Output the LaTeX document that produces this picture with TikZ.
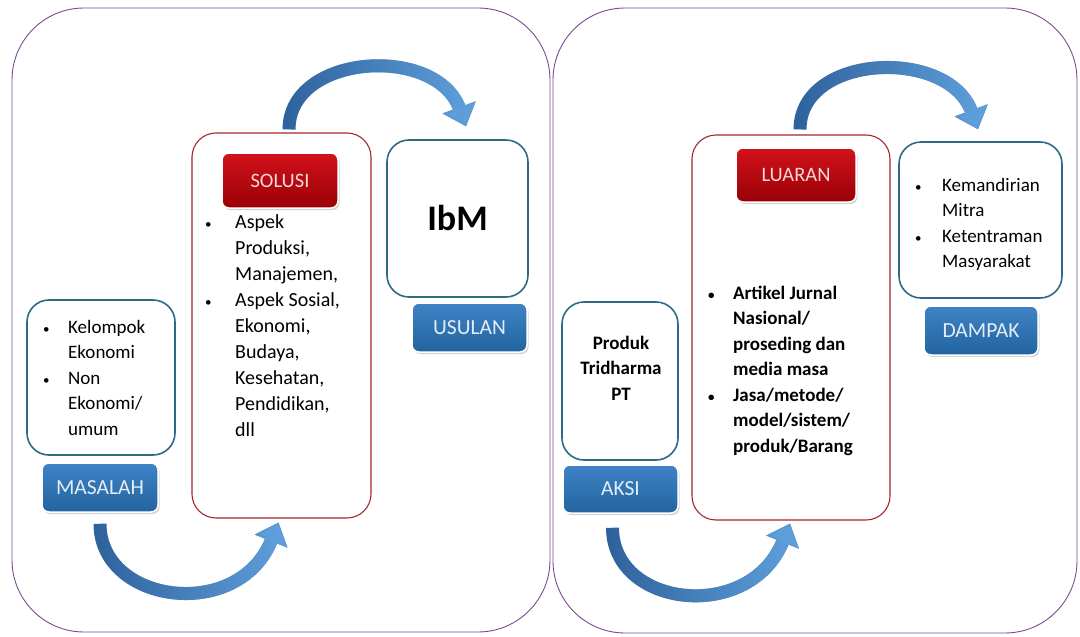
\documentclass[tikz,border=0pt]{standalone}
\usepackage{fontspec}
\setmainfont{Carlito}
\usetikzlibrary{arrows.meta,shadows,fadings}

\definecolor{panelline}{HTML}{7B4A8E}
\definecolor{redline}{HTML}{A3282C}
\definecolor{blueline}{HTML}{2C6A86}
\definecolor{redtop}{HTML}{D2121C}
\definecolor{redbot}{HTML}{9A0006}
\definecolor{bluetop}{HTML}{3F83C6}
\definecolor{bluebot}{HTML}{22649F}
\definecolor{arrowdark}{HTML}{2F629C}
\definecolor{arrowlight}{HTML}{5FA0DC}
\definecolor{labeltext}{HTML}{E4ECF6}
\definecolor{labelpink}{HTML}{F6D8D6}

\newcommand{\bul}{{\fontsize{13}{13}\selectfont\textbullet}}

\tikzset{
  panel/.style={draw=panelline, line width=0.9pt, rounded corners=72pt},
  redbox/.style={draw=redline, line width=1.1pt, rounded corners=24pt, fill=white},
  bluebox/.style={draw=blueline, line width=1.6pt, rounded corners=22pt, fill=white},
  redlabel/.style={rounded corners=7pt, top color=redtop, bottom color=redbot,
    draw=white, line width=1.5pt, text=labelpink,
    drop shadow={opacity=0.35, shadow xshift=1.5pt, shadow yshift=-2pt},
    font=\fontsize{20.5}{24}\selectfont},
  bluelabel/.style={rounded corners=7pt, top color=bluetop, bottom color=bluebot,
    draw=white, line width=1.5pt, text=labeltext,
    drop shadow={opacity=0.35, shadow xshift=1.5pt, shadow yshift=-2pt},
    font=\fontsize{21.5}{24}\selectfont},
  listtext/.style={anchor=base west, inner sep=0pt, font=\fontsize{19}{25.5}\selectfont},
  flow/.style={draw=arrowdark, line width=13pt, -{Triangle[width=34pt,length=20pt]}},
  flowlight/.style={flow, draw=arrowlight, path fading=west}
}

\begin{document}
\begin{tikzpicture}[x=1pt,y=-1pt]
        \useasboundingbox (0,0) rectangle (1080,637);
        \draw[panel] (12,8) rectangle (550,632);
        \draw[panel] (553,8) rectangle (1077,633);

        % Левая часть
        \node[bluebox, minimum width=148pt, minimum height=155pt] (kelbox) at (101,377.5) {};
        \node[listtext] (keltext) at (43,333) {\begin{tabular}[t]{@{}p{25pt}@{}l@{}}
          \bul & Kelompok\\ & Ekonomi\\ \bul & Non\\ & Ekonomi/\\ & umum\end{tabular}};
        \node[bluelabel, minimum width=116pt, minimum height=49pt] (masalah) at (100,487.5) {MASALAH};

        \node[redbox, minimum width=179pt, minimum height=385pt] (solusibox) at (281.5,325.5) {};
        \node[redlabel, minimum width=116pt, minimum height=55pt] (solusi) at (280,180.5) {SOLUSI};
        \node[listtext, font=\fontsize{20}{26}\selectfont] (solusitext) at (205,228)
          {\begin{tabular}[t]{@{}p{30pt}@{}l@{}}
          \bul & Aspek\\ & Produksi,\\ & Manajemen,\\ \bul & Aspek Sosial,\\
          & Ekonomi,\\ & Budaya,\\ & Kesehatan,\\ & Pendidikan,\\ & dll\end{tabular}};

        \node[bluebox, minimum width=141pt, minimum height=157pt,
          font=\bfseries\fontsize{36}{40}\selectfont] (ibmbox) at (457.5,218.5) {IbM};
        \node[bluelabel, minimum width=115pt, minimum height=49pt] (usulan) at (469.5,327.5) {USULAN};

        % Правая часть
        \node[bluebox, minimum width=116pt, minimum height=158pt] (produkbox) at (620,381) {};
        \node[anchor=base, inner sep=0pt, font=\bfseries\fontsize{19}{25.5}\selectfont]
          (produktext) at (621,349) {\begin{tabular}[t]{@{}c@{}}Produk\\Tridharma\\PT\end{tabular}};
        \node[bluelabel, minimum width=115pt, minimum height=48pt] (aksi) at (620.5,489) {AKSI};

        \node[redbox, minimum width=198pt, minimum height=385pt] (luaranbox) at (791,327.5) {};
        \node[redlabel, minimum width=120pt, minimum height=54pt] (luaran) at (796,175) {LUARAN};
        \node[listtext, font=\bfseries\fontsize{19}{25.5}\selectfont] (luarantext) at (708,299)
          {\begin{tabular}[t]{@{}p{25pt}@{}l@{}}
          \bul & Artikel Jurnal\\ & Nasional/\\ & proseding dan\\ & media masa\\
          \bul & Jasa/metode/\\ & model/sistem/\\ & produk/Barang\end{tabular}};

        \node[bluebox, minimum width=163pt, minimum height=156pt] (dampakbox) at (980.5,220) {};
        \node[listtext] (dampaktext) at (915,191) {\begin{tabular}[t]{@{}p{27pt}@{}l@{}}
          \bul & Kemandirian\\ & Mitra\\ \bul & Ketentraman\\ & Masyarakat\end{tabular}};
        \node[bluelabel, minimum width=114pt, minimum height=49pt] (dampak) at (981,330.5) {DAMPAK};

        % Стрелки
        \foreach \st in {flow,flowlight}{
          \draw[\st] ([yshift=-11pt]masalah.south) .. controls +(0,80) and +(-40,100) .. ([xshift=-3pt,yshift=-4pt]solusibox.south);
          \draw[\st] ([xshift=7.5pt,yshift=3pt]solusibox.north) .. controls +(0,-76) and +(-30,-82) .. ([xshift=8.5pt,yshift=13pt]ibmbox.north);
          \draw[\st] ([xshift=-8pt,yshift=-14pt]aksi.south) .. controls +(0,80) and +(-40,100) .. ([xshift=-1pt,yshift=-3pt]luaranbox.south);
          \draw[\st] ([xshift=9pt,yshift=5pt]luaranbox.north) .. controls +(0,-76) and +(-30,-82) .. ([xshift=-2.5pt,yshift=12pt]dampakbox.north);
        }
\end{tikzpicture}
\end{document}
